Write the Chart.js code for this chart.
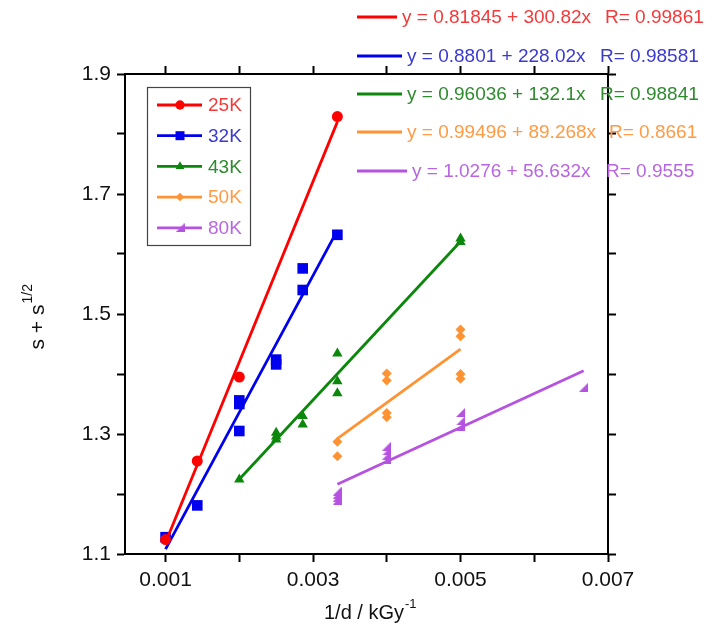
<!DOCTYPE html>
<html>
<head>
<meta charset="utf-8">
<script src="https://cdn.jsdelivr.net/npm/chart.js@4/dist/chart.umd.min.js"></script>
<style>
  body { margin: 0; background: #fff; }
  canvas { display: block; }
</style>
</head>
<body>
<canvas id="grafico" width="716" height="641"></canvas>
<script>
// datos (x = 1/d en kGy^-1)
const etiquetas = ['25K', '32K', '43K', '50K', '80K'];

const x25 = [0.001, 0.00143, 0.002, 0.00333];
const y25 = [1.124, 1.255, 1.395, 1.829];

const x32 = [0.001, 0.00143, 0.002, 0.002, 0.002, 0.0025, 0.0025, 0.00286, 0.00286, 0.00333];
const y32 = [1.128, 1.181, 1.356, 1.350, 1.305, 1.424, 1.416, 1.576, 1.540, 1.632];

const x43 = [0.002, 0.0025, 0.0025, 0.0025, 0.00286, 0.00286, 0.00333, 0.00333, 0.00333, 0.005, 0.005];
const y43 = [1.224, 1.302, 1.296, 1.291, 1.330, 1.316, 1.434, 1.388, 1.368, 1.626, 1.620];

const x50 = [0.00333, 0.00333, 0.004, 0.004, 0.004, 0.004, 0.005, 0.005, 0.005, 0.005];
const y50 = [1.287, 1.263, 1.401, 1.389, 1.335, 1.328, 1.474, 1.463, 1.400, 1.392];

const x80 = [0.00333, 0.00333, 0.00333, 0.00333, 0.004, 0.004, 0.004, 0.004, 0.005, 0.005, 0.005, 0.00667];
const y80 = [1.205, 1.200, 1.195, 1.190, 1.280, 1.272, 1.265, 1.258, 1.336, 1.322, 1.313, 1.378];

// ajustes lineales y = a + b x
const intercepto = [0.81845, 0.8801, 0.96036, 0.99496, 1.0276];
const pendiente = [300.82, 228.02, 132.1, 89.268, 56.632];
const coefR = ['0.99861', '0.98581', '0.98841', '0.8661', '0.9555'];
const textoA = ['0.81845', '0.8801', '0.96036', '0.99496', '1.0276'];
const textoB = ['300.82', '228.02', '132.1', '89.268', '56.632'];

const ticksX = [0.001, 0.002, 0.003, 0.004, 0.005, 0.006, 0.007];
const etiquetasX = ['0.001', '0.003', '0.005', '0.007'];
const ticksY = [1.1, 1.2, 1.3, 1.4, 1.5, 1.6, 1.7, 1.8, 1.9];
const etiquetasY = ['1.1', '1.3', '1.5', '1.7', '1.9'];

const colores = ['#ff0000', '#0000ee', '#0b870b', '#ff9233', '#b652e0'];
const coloresTexto = ['#f23a3a', '#3a3ad0', '#2e8b2e', '#ff9a45', '#b866e0'];

// marcador triangulo rectangulo para 80K
function trianguloRect(color) {
    const c = document.createElement('canvas');
    c.width = 9; c.height = 9;
    const g = c.getContext('2d');
    g.fillStyle = color;
    g.beginPath();
    g.moveTo(0, 9); g.lineTo(9, 9); g.lineTo(9, 0); g.closePath();
    g.fill();
    return c;
}

const estilos = [
    { pointStyle: 'circle', radius: 5.5 },
    { pointStyle: 'rect', radius: 7.5 },
    { pointStyle: 'triangle', radius: 6 },
    { pointStyle: 'rectRot', radius: 5 },
    { pointStyle: trianguloRect(colores[4]), radius: 5 }
];

const seriesX = [x25, x32, x43, x50, x80];
const seriesY = [y25, y32, y43, y50, y80];

const datasets = [];
seriesX.forEach((xs, i) => {
    const xmin = Math.min(...xs);
    const xmax = Math.max(...xs);
    datasets.push({
        label: etiquetas[i] + ' ajuste',
        data: [xmin, xmax].map(x => ({ x: x, y: intercepto[i] + pendiente[i] * x })),
        showLine: true,
        borderColor: colores[i],
        borderWidth: 2.8,
        pointRadius: 0
    });
    datasets.push({
        label: etiquetas[i],
        data: xs.map((x, j) => ({ x: x, y: seriesY[i][j] })),
        showLine: false,
        pointStyle: estilos[i].pointStyle,
        pointRadius: estilos[i].radius,
        pointBackgroundColor: colores[i],
        pointBorderColor: colores[i],
        pointBorderWidth: 0
    });
});

const fuente = '"Liberation Sans", Arial, sans-serif';

function ejeGrid() {
    return { drawOnChartArea: false, drawTicks: true, tickLength: 8, tickWidth: 2, tickColor: '#000' };
}

// textos: leyenda, ecuaciones, titulos de ejes
const textos = {
    id: 'textos',
    afterDraw(chart) {
        const ctx = chart.ctx;
        ctx.save();

        // leyenda
        ctx.strokeStyle = '#444';
        ctx.lineWidth = 1.2;
        ctx.strokeRect(147.5, 87.5, 103, 158);
        ctx.font = '19px ' + fuente;
        ctx.textBaseline = 'middle';
        etiquetas.forEach((et, i) => {
            const y = 105 + i * 30.7;
            ctx.strokeStyle = colores[i];
            ctx.lineWidth = 2.8;
            ctx.beginPath(); ctx.moveTo(157, y); ctx.lineTo(202, y); ctx.stroke();
            ctx.fillStyle = colores[i];
            if (Chart.helpers && Chart.helpers.drawPoint) {
                Chart.helpers.drawPoint(ctx, {
                    pointStyle: estilos[i].pointStyle, radius: estilos[i].radius * 0.85,
                    rotation: 0, borderWidth: 0
                }, 180, y);
            }
            ctx.fillStyle = coloresTexto[i];
            ctx.fillText(et, 208, y + 1);
        });

        // ecuaciones de ajuste
        const filas = [17, 56, 94, 132, 171];
        const finLinea = [397, 402, 402, 402, 407];
        const xR = [605, 600, 600, 609, 606];
        ctx.font = '19px ' + fuente;
        filas.forEach((y, i) => {
            ctx.strokeStyle = colores[i];
            ctx.lineWidth = 2.8;
            ctx.beginPath(); ctx.moveTo(357, y); ctx.lineTo(finLinea[i], y); ctx.stroke();
            ctx.fillStyle = coloresTexto[i];
            ctx.fillText('y = ' + textoA[i] + ' + ' + textoB[i] + 'x', finLinea[i] + 5, y + 1);
            ctx.fillText('R= ' + coefR[i], xR[i], y + 1);
        });

        // titulo eje x
        ctx.fillStyle = '#111';
        ctx.font = '20px ' + fuente;
        ctx.textBaseline = 'alphabetic';
        const tx = '1/d / kGy';
        const w = ctx.measureText(tx).width;
        const x0 = 370 - (w + 12) / 2;
        ctx.fillText(tx, x0, 619);
        ctx.font = '13px ' + fuente;
        ctx.fillText('-1', x0 + w + 1, 608);

        // titulo eje y
        ctx.translate(44, 318);
        ctx.rotate(-Math.PI / 2);
        ctx.font = '21px ' + fuente;
        const ty = 's + s';
        const wy = ctx.measureText(ty).width;
        const y0 = -(wy + 18) / 2;
        ctx.fillText(ty, y0, 0);
        ctx.font = '14px ' + fuente;
        ctx.fillText('1/2', y0 + wy + 1, -12);
        ctx.restore();
    }
};

new Chart(document.getElementById('grafico').getContext('2d'), {
    type: 'scatter',
    data: { datasets: datasets },
    options: {
        responsive: false,
        animation: false,
        layout: { padding: 0 },
        plugins: { legend: { display: false }, tooltip: { enabled: false } },
        scales: {
            x: {
                type: 'linear', position: 'bottom', min: 0.00045, max: 0.007,
                afterBuildTicks: s => { s.ticks = ticksX.map(v => ({ value: v })); },
                afterFit: s => { s.height = 87; },
                grid: ejeGrid(),
                border: { display: true, color: '#000', width: 2 },
                ticks: {
                    color: '#111', padding: 6, font: { size: 21, family: fuente },
                    maxRotation: 0, autoSkip: false,
                    callback: v => { const t = v.toFixed(3); return etiquetasX.includes(t) ? t : ''; }
                }
            },
            x2: {
                type: 'linear', position: 'top', min: 0.00045, max: 0.007,
                afterBuildTicks: s => { s.ticks = ticksX.map(v => ({ value: v })); },
                afterFit: s => { s.height = 74; },
                grid: ejeGrid(),
                border: { display: true, color: '#000', width: 2 },
                ticks: { display: false }
            },
            y: {
                type: 'linear', position: 'left', min: 1.1, max: 1.9,
                afterBuildTicks: s => { s.ticks = ticksY.map(v => ({ value: v })); },
                afterFit: s => { s.width = 125; },
                grid: ejeGrid(),
                border: { display: true, color: '#000', width: 2 },
                ticks: {
                    color: '#111', padding: 6, font: { size: 21, family: fuente }, autoSkip: false,
                    callback: v => { const t = v.toFixed(1); return etiquetasY.includes(t) ? t : ''; }
                }
            },
            y2: {
                type: 'linear', position: 'right', min: 1.1, max: 1.9,
                afterBuildTicks: s => { s.ticks = ticksY.map(v => ({ value: v })); },
                afterFit: s => { s.width = 108; },
                grid: ejeGrid(),
                border: { display: true, color: '#000', width: 2 },
                ticks: { display: false }
            }
        }
    },
    plugins: [textos]
});
</script>
</body>
</html>
